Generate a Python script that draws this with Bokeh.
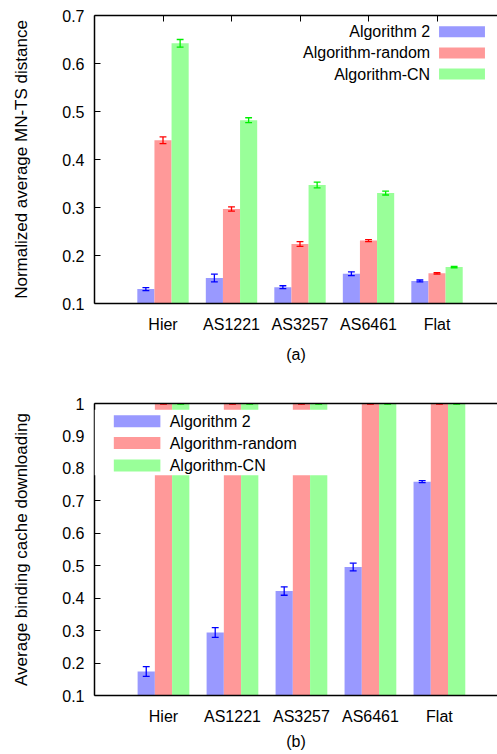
from bokeh.plotting import figure
from bokeh.layouts import column
from bokeh.models import (Range1d, FixedTicker, LinearAxis, CustomJSTickFormatter,
                          BoxAnnotation, Label)
from bokeh.embed import file_html
from bokeh.resources import INLINE

# ---------------- data ----------------
categories = ["Hier", "AS1221", "AS3257", "AS6461", "Flat"]
series_names = ["Algorithm 2", "Algorithm-random", "Algorithm-CN"]

# panel (a): Normalized average MN-TS distance
a_alg2 = [0.130, 0.153, 0.134, 0.162, 0.147]
a_alg2_err = [0.003, 0.008, 0.003, 0.004, 0.002]
a_random = [0.440, 0.297, 0.224, 0.231, 0.163]
a_random_err = [0.007, 0.0045, 0.005, 0.002, 0.0015]
a_cn = [0.642, 0.482, 0.347, 0.330, 0.176]
a_cn_err = [0.008, 0.005, 0.006, 0.004, 0.0015]

# panel (b): Average binding cache downloading
b_alg2 = [0.174, 0.294, 0.422, 0.496, 0.759]
b_alg2_err = [0.015, 0.015, 0.013, 0.012, 0.003]
b_random = [1.0, 1.0, 1.0, 1.0, 1.0]
b_random_err = [0.002, 0.002, 0.002, 0.002, 0.002]
b_cn = [1.0, 1.0, 1.0, 1.0, 1.0]
b_cn_err = [0.002, 0.002, 0.002, 0.002, 0.002]

a_yticks = [0.1, 0.2, 0.3, 0.4, 0.5, 0.6, 0.7]
b_yticks = [0.1, 0.2, 0.3, 0.4, 0.5, 0.6, 0.7, 0.8, 0.9, 1.0]

# ---------------- style ----------------
FONT = "Liberation Sans"
FILLS = ["#9999ff", "#ff9999", "#99ff99"]
ERRS = ["#0000ff", "#ff0000", "#00ee00"]
OFFSETS = [-0.25, 0.0, 0.25]
BAR_W = 0.25
CAP = 0.05


def make_panel(vals_list, errs_list, yticks, ylabel, caption, *, height,
               border_top, border_left, border_bottom, x_end, top_ticks,
               tick_standoff, cap_standoff, ylabel_standoff):
    xs = [i + 1 for i in range(len(categories))]
    p = figure(width=497, height=height, output_backend="svg", toolbar_location=None,
               x_range=Range1d(0, x_end), y_range=Range1d(yticks[0], yticks[-1]),
               min_border_top=border_top, min_border_left=border_left,
               min_border_right=0, min_border_bottom=border_bottom)
    p.outline_line_color = None
    p.grid.visible = False
    p.background_fill_color = "white"
    p.border_fill_color = "white"

    for k in range(3):
        bx = [x + OFFSETS[k] for x in xs]
        vals = vals_list[k]
        errs = errs_list[k]
        p.vbar(x=bx, top=vals, bottom=0, width=BAR_W, fill_color=FILLS[k],
               line_color=None)
        lo = [v - e for v, e in zip(vals, errs)]
        hi = [v + e for v, e in zip(vals, errs)]
        p.segment(x0=bx, y0=lo, x1=bx, y1=hi, line_color=ERRS[k], line_width=1.3)
        cl = [x - CAP for x in bx]
        cr = [x + CAP for x in bx]
        p.segment(x0=cl, y0=lo, x1=cr, y1=lo, line_color=ERRS[k], line_width=1.3)
        p.segment(x0=cl, y0=hi, x1=cr, y1=hi, line_color=ERRS[k], line_width=1.3)

    # axes
    yax = p.yaxis[0]
    yax.ticker = FixedTicker(ticks=yticks)
    yax.formatter = CustomJSTickFormatter(code="return tick.toFixed(1).replace(/\\.0$/, '')")
    yax.axis_label = ylabel
    yax.axis_label_standoff = ylabel_standoff
    yax.major_label_standoff = 10

    xax = p.xaxis[0]
    xax.ticker = FixedTicker(ticks=xs)
    xax.major_label_overrides = {x: c for x, c in zip(xs, categories)}
    xax.major_tick_in = 0
    xax.major_tick_out = 0
    xax.major_label_standoff = tick_standoff
    xax.axis_label = caption
    xax.axis_label_standoff = cap_standoff

    top = LinearAxis(ticker=FixedTicker(ticks=xs if top_ticks else []),
                     formatter=CustomJSTickFormatter(code="return ''"),
                     major_label_standoff=0,
                     major_tick_in=6 if top_ticks else 0, major_tick_out=0)
    p.add_layout(top, "above")

    for ax in [yax, xax, top]:
        ax.axis_line_color = "black"
        ax.axis_line_width = 1.5
        ax.major_tick_line_color = "black"
        ax.major_tick_line_width = 1
        ax.minor_tick_line_color = None
        ax.major_label_text_font = FONT
        ax.major_label_text_color = "black"
        ax.axis_label_text_font = FONT
        ax.axis_label_text_font_style = "normal"
        ax.axis_label_text_font_size = "16px"
        ax.axis_label_text_color = "black"
    yax.axis_label_text_font_size = "17px"
    yax.major_label_text_font_size = "16px"
    xax.major_label_text_font_size = "16px"
    yax.major_tick_in = 6
    yax.major_tick_out = 0
    return p


pa = make_panel([a_alg2, a_random, a_cn], [a_alg2_err, a_random_err, a_cn_err],
                a_yticks, "Normalized average MN-TS distance", "(a)",
                height=372, border_top=15, border_left=94, border_bottom=69,
                x_end=5.883, top_ticks=True,
                tick_standoff=12, cap_standoff=10, ylabel_standoff=28)

# legend (a): text on the left, swatch on the right
a_leg_y = [0.666, 0.622, 0.578]
for k in range(3):
    pa.add_layout(BoxAnnotation(left=5.03, right=5.70, bottom=a_leg_y[k] - 0.0115,
                                top=a_leg_y[k] + 0.0115, fill_color=FILLS[k],
                                fill_alpha=1.0, line_color=None))
    pa.add_layout(Label(x=4.90, y=a_leg_y[k], text=series_names[k], text_align="right",
                        text_baseline="middle", text_font=FONT, text_font_size="16px",
                        text_color="black"))

pb = make_panel([b_alg2, b_random, b_cn], [b_alg2_err, b_random_err, b_cn_err],
                b_yticks, "Average binding cache downloading", "(b)",
                height=382, border_top=31, border_left=91, border_bottom=59,
                x_end=5.842, top_ticks=False,
                tick_standoff=12, cap_standoff=5, ylabel_standoff=28)

# legend (b): opaque white box, swatch left, text right
pb.add_layout(BoxAnnotation(left=0, right=3.55, bottom=0.779, top=0.981,
                            fill_color="white", fill_alpha=1.0, line_color=None))
b_leg_y = [0.945, 0.878, 0.809]
for k in range(3):
    pb.add_layout(BoxAnnotation(left=0.28, right=0.955, bottom=b_leg_y[k] - 0.0185,
                                top=b_leg_y[k] + 0.0185, fill_color=FILLS[k],
                                fill_alpha=1.0, line_color=None))
    pb.add_layout(Label(x=1.09, y=b_leg_y[k], text=series_names[k], text_align="left",
                        text_baseline="middle", text_font=FONT, text_font_size="16px",
                        text_color="black"))

layout = column(pa, pb, spacing=0)
open("out.html", "w").write(file_html(layout, INLINE))
